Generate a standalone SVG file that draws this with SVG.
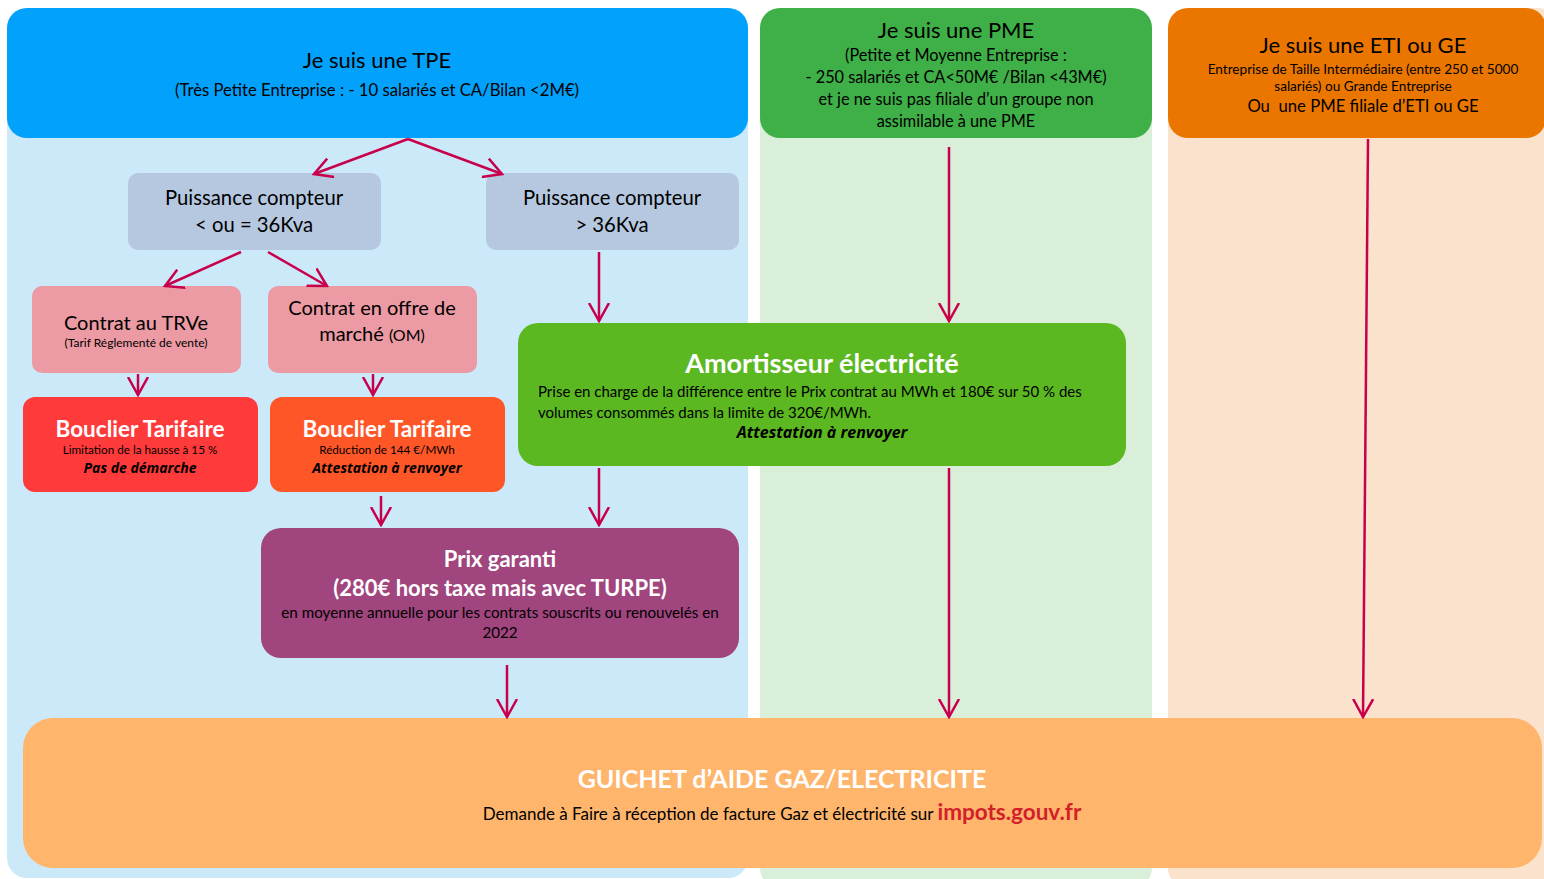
<svg xmlns="http://www.w3.org/2000/svg" width="1544" height="879" viewBox="0 0 1544 879">
<style>
text{font-family:Lato,"Open Sans","Liberation Sans",sans-serif;text-anchor:middle;fill:#000}
.w{fill:#fff;font-weight:bold}
.bi{font-family:"Open Sans",Lato,sans-serif;font-weight:bold;font-style:italic}
.c{fill:none;stroke:#C8004C;stroke-width:2.5}
</style>
<defs>
<marker id="ah" viewBox="0 0 20 22" refX="18" refY="11" markerWidth="20" markerHeight="22" markerUnits="userSpaceOnUse" orient="auto">
<path d="M0,1 L18,11 L0,21" fill="none" stroke="#C8004C" stroke-width="2.5"/>
</marker>
</defs>
<rect width="1544" height="879" fill="#fff"/>
<g id="columns">
<rect x="7" y="8" width="741" height="870" rx="20" fill="#CCE9FA"/>
<rect x="760" y="8" width="392" height="880" rx="20" fill="#D9EFDA"/>
<rect x="1168" y="8" width="390" height="880" rx="20" fill="#FAE2CC"/>
</g>
<g id="tpe">
<rect x="7" y="8" width="741" height="130" rx="20" fill="#02A1FB"/>
<text x="377" y="68" font-size="22">Je suis une TPE</text>
<text x="377" y="96" font-size="16.7">(Très Petite Entreprise : - 10 salariés et CA/Bilan &lt;2M€)</text>
</g>
<g id="pme">
<rect x="760" y="8" width="392" height="130" rx="20" fill="#3FAF47"/>
<text x="956" y="38" font-size="22">Je suis une PME</text>
<text x="956" y="61" font-size="16.3">(Petite et Moyenne Entreprise :</text>
<text x="956" y="83" font-size="16.3">- 250 salariés et CA&lt;50M€ /Bilan &lt;43M€)</text>
<text x="956" y="105" font-size="16.3">et je ne suis pas filiale d’un groupe non</text>
<text x="956" y="127" font-size="16.3">assimilable à une PME</text>
</g>
<g id="eti">
<rect x="1168" y="8" width="378" height="130" rx="20" fill="#EA7600"/>
<text x="1363" y="53" font-size="22">Je suis une ETI ou GE</text>
<text x="1363" y="74" font-size="13.6">Entreprise de Taille Intermédiaire (entre 250 et 5000</text>
<text x="1363" y="91" font-size="13.6">salariés) ou Grande Entreprise</text>
<text x="1363" y="112" font-size="16.7">Ou&#160; une PME filiale d’ETI ou GE</text>
</g>
<g id="puissance1">
<rect x="128" y="173" width="253" height="77" rx="10" fill="#B5C8DF"/>
<text x="254" y="205" font-size="20.3">Puissance compteur</text>
<text x="254" y="232" font-size="20.3">&lt; ou = 36Kva</text>
</g>
<g id="puissance2">
<rect x="486" y="173" width="253" height="77" rx="10" fill="#B5C8DF"/>
<text x="612" y="205" font-size="20.3">Puissance compteur</text>
<text x="612" y="232" font-size="20.3">&gt; 36Kva</text>
</g>
<g id="trve">
<rect x="32" y="286" width="209" height="87" rx="10" fill="#EC9AA3"/>
<text x="136" y="330" font-size="20">Contrat au TRVe</text>
<text x="136" y="347" font-size="12">(Tarif Réglementé de vente)</text>
</g>
<g id="om">
<rect x="268" y="286" width="209" height="87" rx="10" fill="#EC9AA3"/>
<text x="372" y="315" font-size="20">Contrat en offre de</text>
<text x="372" y="341" font-size="20">marché <tspan font-size="16">(OM)</tspan></text>
</g>
<g id="bouclier1">
<rect x="23" y="397" width="235" height="95" rx="12" fill="#FF3A3A"/>
<text x="140" y="437" font-size="22.5" class="w">Bouclier Tarifaire</text>
<text x="140" y="454" font-size="11.7">Limitation de la hausse à 15 %</text>
<text x="140" y="473" font-size="14" class="bi">Pas de démarche</text>
</g>
<g id="bouclier2">
<rect x="270" y="397" width="235" height="95" rx="12" fill="#FF5628"/>
<text x="387" y="437" font-size="22.5" class="w">Bouclier Tarifaire</text>
<text x="387" y="454" font-size="11.7">Réduction de 144 €/MWh</text>
<text x="387" y="473" font-size="14" class="bi">Attestation à renvoyer</text>
</g>
<g id="amortisseur">
<rect x="518" y="323" width="608" height="143" rx="20" fill="#5CB821"/>
<text x="822" y="373" font-size="27" class="w">Amortisseur électricité</text>
<text x="538" y="397" font-size="15" style="text-anchor:start">Prise en charge de la différence entre le Prix contrat au MWh et 180€ sur 50 % des</text>
<text x="538" y="418" font-size="15" style="text-anchor:start">volumes consommés dans la limite de 320€/MWh.</text>
<text x="822" y="438" font-size="16" class="bi">Attestation à renvoyer</text>
</g>
<g id="prix">
<rect x="261" y="528" width="478" height="130" rx="20" fill="#A0457E"/>
<text x="500" y="567" font-size="22" class="w">Prix garanti</text>
<text x="500" y="596" font-size="22" class="w">(280€ hors taxe mais avec TURPE)</text>
<text x="500" y="618" font-size="15.2">en moyenne annuelle pour les contrats souscrits ou renouvelés en</text>
<text x="500" y="638" font-size="15.2">2022</text>
</g>
<g id="guichet">
<rect x="23" y="718" width="1519" height="150" rx="30" fill="#FFB56C"/>
<text x="782" y="788" font-size="25" class="w">GUICHET d’AIDE GAZ/ELECTRICITE</text>
<text x="782" y="820" font-size="17">Demande à Faire à réception de facture Gaz et électricité sur <tspan font-size="22.5" font-weight="bold" fill="#D2202A">impots.gouv.fr</tspan></text>
</g>
<g id="connectors">
<path class="c" d="M408,139 L314,174" marker-end="url(#ah)"/>
<path class="c" d="M408,139 L502,174" marker-end="url(#ah)"/>
<path class="c" d="M241,252 L165,286" marker-end="url(#ah)"/>
<path class="c" d="M268,252 L327,286" marker-end="url(#ah)"/>
<path class="c" d="M599,252 L599,321" marker-end="url(#ah)"/>
<path class="c" d="M138,374 L138,395" marker-end="url(#ah)"/>
<path class="c" d="M373,374 L373,395" marker-end="url(#ah)"/>
<path class="c" d="M381,496 L381,525" marker-end="url(#ah)"/>
<path class="c" d="M599,468 L599,525" marker-end="url(#ah)"/>
<path class="c" d="M507,665 L507,717" marker-end="url(#ah)"/>
<path class="c" d="M949,147 L949,321" marker-end="url(#ah)"/>
<path class="c" d="M949,468 L949,717" marker-end="url(#ah)"/>
<path class="c" d="M1368,139 L1363,717" marker-end="url(#ah)"/>
</g>
</svg>
